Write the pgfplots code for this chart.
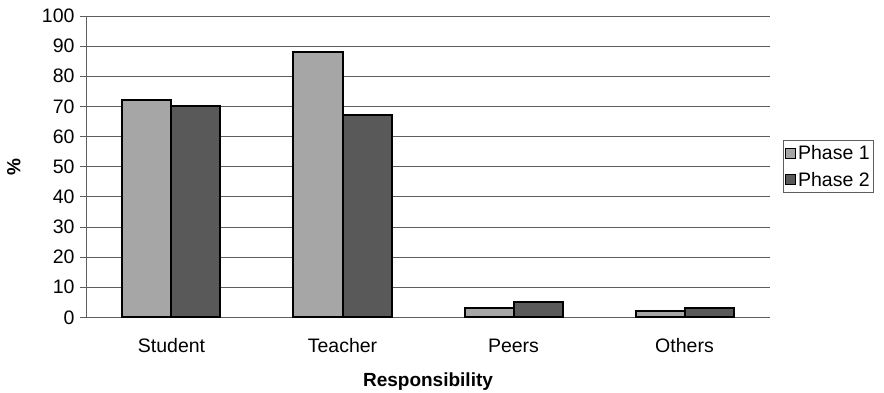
\documentclass[border=0pt]{standalone}
\usepackage{pgfplots}
\pgfplotsset{compat=1.18}
\usepackage{fontspec}
\setmainfont{Liberation Sans}
\definecolor{phaseone}{HTML}{A6A6A6}
\definecolor{phasetwo}{HTML}{595959}
\definecolor{gridgray}{HTML}{5E5E5E}
\begin{document}
\begin{tikzpicture}
\path[use as bounding box] (-86pt,-74.7pt) rectangle (798pt,317.3pt);
\begin{axis}[
  at={(0pt,0pt)}, anchor=south west,
  scale only axis,
  width=684pt, height=301.3pt,
  ybar=0pt,
  bar width=49pt,
  xmin=-0.5, xmax=3.5,
  ymin=0, ymax=100,
  ytick={0,10,...,100},
  xtick={0,1,2,3},
  xticklabels={Student,Teacher,Peers,Others},
  major x tick style={draw=none},
  extra x ticks={-0.5,0.5,1.5,2.5,3.5},
  extra x tick labels={},
  extra x tick style={major tick length=6pt, tick align=outside, tick style={gridgray, line width=0.8pt}, grid=none},
  axis lines=left,
  axis line style={-, gridgray, line width=0.8pt},
  ymajorgrids,
  major grid style={gridgray, line width=0.8pt},
  ytick style={gridgray, line width=0.8pt},
  major tick length=6pt,
  tick align=outside,
  /pgf/number format/assume math mode=true,
  ticklabel style={font=\fontsize{19.5}{22}\selectfont},
  yticklabel style={xshift=-2pt},
  xticklabel style={yshift=-12pt},
  ylabel={\textbf{\%}},
  ylabel style={font=\fontsize{19}{22}\selectfont, at={(-62pt,0.5)}, anchor=south},
  xlabel={\textbf{Responsibility}},
  xlabel style={font=\fontsize{19}{22}\selectfont, at={(0.5,-64pt)}, anchor=center},
  legend style={at={(1.019,0.588)}, anchor=north west, draw=gridgray, line width=0.6pt,
    font=\fontsize{19.5}{22}\selectfont, inner xsep=2pt, inner ysep=3pt,
    row sep=7pt, cells={anchor=west}},
  legend image code/.code={\draw[#1, line width=0.8pt] (0pt,-5pt) rectangle (10pt,5pt);},
  clip=false,
]
\addplot[fill=phaseone, draw=black, line width=2pt] coordinates {(0,72) (1,88) (2,3) (3,2)};
\addplot[fill=phasetwo, draw=black, line width=2pt] coordinates {(0,70) (1,67) (2,5) (3,3)};
\legend{Phase 1, Phase 2}
\end{axis}
\end{tikzpicture}
\end{document}
